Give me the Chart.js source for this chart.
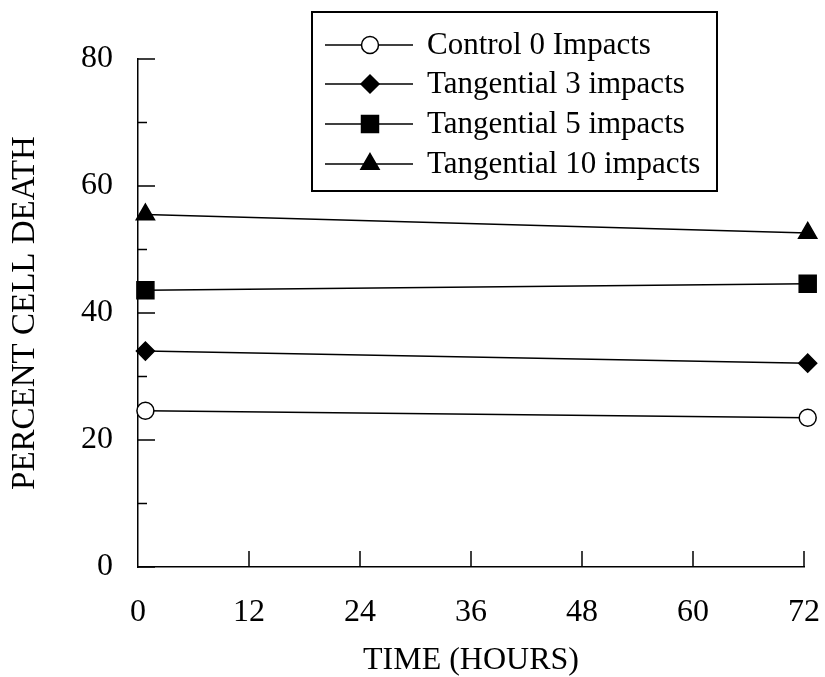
<!DOCTYPE html>
<html>
<head>
<meta charset="utf-8">
<script src="https://cdn.jsdelivr.net/npm/chart.js@4/dist/chart.umd.min.js"></script>
<style>
  html, body { margin: 0; padding: 0; background: #fff; }
  #wrap { width: 825px; height: 677px; position: relative; }
</style>
</head>
<body>
<div id="wrap"><canvas id="c"></canvas></div>
<script>
// ---- data ----
const timeHours = [0.8, 72.4];
const seriesLabels = ["Control 0 Impacts", "Tangential 3 impacts", "Tangential 5 impacts", "Tangential 10 impacts"];
const control0 = [24.6, 23.5];
const tangential3 = [34.0, 32.1];
const tangential5 = [43.6, 44.6];
const tangential10 = [55.5, 52.6];
const xTicks = [0, 12, 24, 36, 48, 60, 72];
const yTicks = [0, 20, 40, 60, 80];
const xTitle = "TIME (HOURS)";
const yTitle = "PERCENT CELL DEATH";

const FONT = "'Liberation Serif', 'Times New Roman', serif";
const pointStyles = ["circle", "rectRot", "rect", "triangle"];
const pointRadii = [8.5, 9, 12, 10.5];
const pointFill = ["#ffffff", "#000000", "#000000", "#000000"];
const allSeries = [control0, tangential3, tangential5, tangential10];

const datasets = allSeries.map((vals, i) => ({
  label: seriesLabels[i],
  data: vals.map((v, k) => ({ x: timeHours[k], y: v })),
  borderColor: "#000",
  borderWidth: 1.5,
  backgroundColor: pointFill[i],
  pointStyle: pointStyles[i],
  pointRadius: pointRadii[i],
  pointBorderColor: "#000",
  pointBorderWidth: 1.5,
  pointBackgroundColor: pointFill[i],
  showLine: true,
  tension: 0,
  clip: false
}));

// inward tick marks drawn through the scales
const tickPlugin = {
  id: "inwardTicks",
  afterDraw(chart) {
    const ctx = chart.ctx;
    const xs = chart.scales.x, ys = chart.scales.y;
    const ca = chart.chartArea;
    ctx.save();
    ctx.strokeStyle = "#000";
    ctx.lineWidth = 1.5;
    ctx.beginPath();
    for (let v = 0; v <= 80; v += 10) {
      const y = ys.getPixelForValue(v);
      const len = (v % 20 === 0) ? 17 : 9;
      ctx.moveTo(ca.left, y);
      ctx.lineTo(ca.left + len, y);
    }
    xTicks.forEach(v => {
      if (v === 0) return;
      const x = xs.getPixelForValue(v);
      ctx.moveTo(x, ca.bottom);
      ctx.lineTo(x, ca.bottom - 16);
    });
    ctx.stroke();
    ctx.restore();
  }
};

// boxed legend
const boxLegend = {
  id: "boxLegend",
  afterDraw(chart) {
    const ctx = chart.ctx;
    const bx = 312, by = 12, bw = 405, bh = 179;
    ctx.save();
    ctx.strokeStyle = "#000";
    ctx.lineWidth = 2;
    ctx.strokeRect(bx, by, bw, bh);
    const rows = [45, 84, 124, 164];
    ctx.font = "31px " + FONT;
    ctx.fillStyle = "#000";
    ctx.textBaseline = "middle";
    ctx.textAlign = "left";
    chart.data.datasets.forEach((ds, i) => {
      const y = rows[i];
      ctx.beginPath();
      ctx.lineWidth = 1.5;
      ctx.strokeStyle = "#000";
      ctx.moveTo(325, y);
      ctx.lineTo(413, y);
      ctx.stroke();
      ctx.fillStyle = ds.pointBackgroundColor;
      ctx.strokeStyle = "#000";
      ctx.lineWidth = 1.5;
      Chart.helpers.drawPoint(ctx, { pointStyle: ds.pointStyle, radius: ds.pointRadius, rotation: 0, borderWidth: 1.5 }, 370, y);
      ctx.fillStyle = "#000";
      ctx.fillText(ds.label, 427, y + 1);
    });
    ctx.restore();
  }
};

new Chart(document.getElementById("c"), {
  type: "scatter",
  data: { datasets },
  options: {
    responsive: true,
    maintainAspectRatio: false,
    animation: false,
    devicePixelRatio: 1,
    layout: { padding: { top: 59, right: 21, left: 0, bottom: 0 } },
    plugins: { legend: { display: false }, tooltip: { enabled: false } },
    scales: {
      x: {
        type: "linear",
        min: 0, max: 72,
        afterFit(s) { s.height = 110; s.paddingLeft = 0; s.paddingRight = 0; },
        afterBuildTicks(s) { s.ticks = xTicks.map(v => ({ value: v })); },
        ticks: { color: "#000", padding: 26, font: { family: FONT, size: 32 } },
        grid: { display: true, drawOnChartArea: false, drawTicks: false },
        border: { display: true, color: "#000", width: 1.5 },
        title: { display: true, text: xTitle, color: "#000", font: { family: FONT, size: 32, lineHeight: 1.0 }, padding: { top: 0, bottom: 0 } }
      },
      y: {
        type: "linear",
        min: 0, max: 80,
        afterFit(s) { s.width = 138; s.paddingTop = 0; s.paddingBottom = 0; },
        afterBuildTicks(s) { s.ticks = yTicks.map(v => ({ value: v })); },
        ticks: { color: "#000", padding: 25, font: { family: FONT, size: 32 } },
        grid: { display: true, drawOnChartArea: false, drawTicks: false },
        border: { display: true, color: "#000", width: 1.5 },
        title: { display: true, text: yTitle, color: "#000", font: { family: FONT, size: 33 }, padding: { top: 6, bottom: 0 } }
      }
    }
  },
  plugins: [tickPlugin, boxLegend]
});
</script>
</body>
</html>
